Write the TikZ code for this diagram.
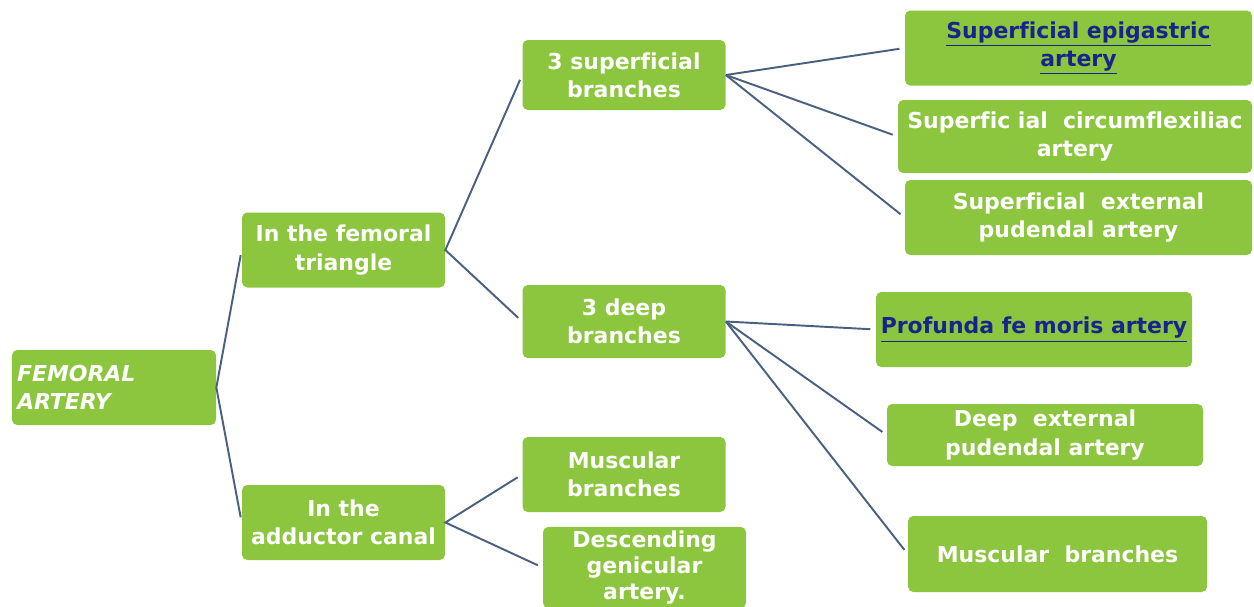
\documentclass[tikz,border=0pt]{standalone}
\usepackage{fontspec}
\setmainfont{DejaVu Sans}[Ligatures=NoCommon]
\usepackage{tikz}
\usetikzlibrary{positioning}

\definecolor{boxgreen}{RGB}{140,198,63}
\definecolor{linkblue}{RGB}{74,96,128}
\definecolor{refblue}{RGB}{25,35,140}

\begin{document}
\begin{tikzpicture}[
    box/.style={rectangle, rounded corners=3pt, fill=boxgreen, text=white, align=center, inner sep=2pt,
        font=\bfseries\fontsize{12.5}{16}\selectfont, minimum width=4.06cm, minimum height=1.5cm},
    leaf/.style={box, minimum width=6.9cm},
    link/.style={draw=linkblue, line width=1.1pt, shorten <=3pt, shorten >=3pt}
]
\useasboundingbox (0,0) rectangle (25.08,-12.12);

\node[box, minimum width=4.08cm, align=left, text width=3.88cm, font=\bfseries\itshape\fontsize{12.5}{16}\selectfont] (femoral) at (2.28,-7.75) {FEMORAL\\ARTERY};
\node[box] (triangle) at (6.87,-5.0) {In the femoral\\triangle};
\node[box] (adductor) at (6.87,-10.45) {In the\\adductor canal};

\node[box, minimum height=1.4cm] (superficial) at (12.48,-1.5) {3 superficial\\branches};
\node[box, minimum height=1.46cm] (deep) at (12.48,-6.43) {3 deep\\branches};
\node[box] (muscular) at (12.48,-9.49) {Muscular\\branches};
\node[box, font=\bfseries\fontsize{12.5}{15}\selectfont] (descending) at (12.89,-11.35) {Descending\\genicular\\artery.};

\node[leaf, minimum width=6.94cm, text=refblue] (epigastric) at (21.57,-0.96) {\underline{Superficial epigastric}\\\underline{artery}};
\node[leaf, minimum width=7.08cm, minimum height=1.46cm] (circumflex) at (21.5,-2.73) {Superfic ial~ circumflexiliac\\artery};
\node[leaf, minimum width=6.94cm] (extpudendal) at (21.57,-4.35) {Superficial~ external\\pudendal artery};
\node[leaf, minimum width=6.32cm, text=refblue] (profunda) at (20.68,-6.59) {\underline{Profunda fe moris artery}};
\node[leaf, minimum width=6.32cm, minimum height=1.24cm] (deepext) at (20.9,-8.7) {Deep~ external\\pudendal artery};
\node[leaf, minimum width=5.98cm, minimum height=1.52cm] (muscright) at (21.15,-11.08) {Muscular~ branches};

\draw[link] (triangle.west) -- (femoral.east) -- (adductor.west);
\draw[link] (superficial.west) -- (triangle.east) -- (deep.west);
\draw[link] (muscular.west) -- (adductor.east) -- (descending.west);
\draw[link, shorten <=0pt] (superficial.east) -- (epigastric.west);
\draw[link, shorten <=0pt] (superficial.east) -- (circumflex.west);
\draw[link, shorten <=0pt] (superficial.east) -- (extpudendal.west);
\draw[link, shorten <=0pt] (deep.east) -- (profunda.west);
\draw[link, shorten <=0pt] (deep.east) -- (deepext.west);
\draw[link, shorten <=0pt] (deep.east) -- (muscright.west);
\end{tikzpicture}
\end{document}
